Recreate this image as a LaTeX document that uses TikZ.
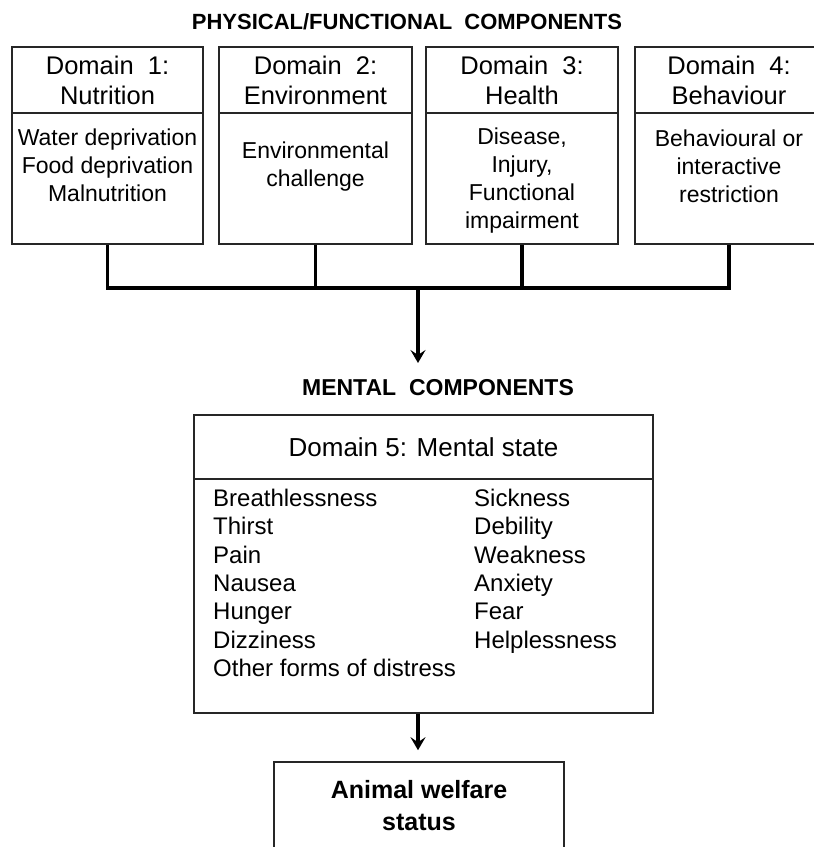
\documentclass[tikz,border=0pt]{standalone}
\usepackage{fontspec}
\setmainfont{Liberation Sans}
\usetikzlibrary{arrows.meta}
\begin{document}
\begin{tikzpicture}[x=1pt,y=-1pt,
  box/.style={draw=black!85,line width=1.6pt,inner sep=0pt,fill=white},
  headtxt/.style={align=center,font=\fontsize{25.5}{30}\selectfont},
  bodytxt/.style={align=center,inner sep=0pt,font=\fontsize{23}{28}\selectfont},
  listtxt/.style={align=left,inner sep=0pt,anchor=base west,font=\fontsize{24}{28.3}\selectfont},
  title/.style={inner sep=0pt,font=\bfseries\fontsize{22}{26}\selectfont},
  conn/.style={line width=3.2pt,draw=black},
  arr/.style={conn,-{Stealth[length=13pt,width=15pt,inset=5pt]}}
]
\useasboundingbox[fill=white] (0,0) rectangle (814,847);

% title
\node[title] (ptitle) at (407,22) {PHYSICAL/FUNCTIONAL\ \ COMPONENTS};

% domain boxes
\node[box,headtxt,minimum width=191pt,minimum height=66pt] (h1) at (107.5,80) {Domain\ \ 1:\\Nutrition};
\node[box,minimum width=191pt,minimum height=131pt] (b1) at (107.5,178.5) {};
\node[bodytxt] (t1) at (107.5,165) {Water deprivation\\Food deprivation\\Malnutrition};

\node[box,headtxt,minimum width=193pt,minimum height=66pt] (h2) at (315.5,80) {Domain\ \ 2:\\Environment};
\node[box,minimum width=193pt,minimum height=131pt] (b2) at (315.5,178.5) {};
\node[bodytxt] (t2) at (315.5,166.5) {Environmental\\challenge};

\node[box,headtxt,minimum width=192pt,minimum height=66pt] (h3) at (522,80) {Domain\ \ 3:\\Health};
\node[box,minimum width=192pt,minimum height=131pt] (b3) at (522,178.5) {};
\node[bodytxt] (t3) at (522,180.5) {Disease,\\Injury,\\Functional\\impairment};

\node[box,headtxt,minimum width=188pt,minimum height=66pt] (h4) at (729,80) {Domain\ \ 4:\\Behaviour};
\node[box,minimum width=188pt,minimum height=131pt] (b4) at (729,178.5) {};
\node[bodytxt] (t4) at (729,166.5) {Behavioural or\\interactive\\restriction};

% bus
\coordinate (bus) at (418,288);
\coordinate (a1end) at (418,363);
\draw[conn] (b1.south) -- (b1.south |- bus);
\draw[conn] (b2.south) -- (b2.south |- bus);
\draw[conn] (b3.south) -- (b3.south |- bus);
\draw[conn] (b4.south) -- (b4.south |- bus);
\draw[conn,line cap=rect] (b1.south |- bus) -- (b4.south |- bus);
\draw[arr] (bus) -- (a1end);

% mental
\node[title,font=\bfseries\fontsize{23}{26}\selectfont] (mtitle) at (438,388) {MENTAL\ \ COMPONENTS};
\node[box,minimum width=459pt,minimum height=64pt,font=\fontsize{26}{30}\selectfont] (m5h) at (423.5,447) {Domain 5: Mental state};
\node[box,minimum width=459pt,minimum height=234pt] (m5b) at (423.5,596) {};
\node[listtxt] (l1) at (213,676.3) {Breathlessness\\Thirst\\Pain\\Nausea\\Hunger\\Dizziness\\Other forms of distress};
\node[listtxt] (l2) at (474,648) {Sickness\\Debility\\Weakness\\Anxiety\\Fear\\Helplessness};

% animal welfare
\node[box,minimum width=290pt,minimum height=110pt] (aw) at (419,817) {};
\node[align=center,inner sep=0pt,font=\bfseries\fontsize{25}{32}\selectfont] (awt) at (419,806) {Animal welfare\\status};
\draw[arr,shorten >=11pt] (m5b.south -| bus) -- (aw.north -| bus);
\end{tikzpicture}
\end{document}
